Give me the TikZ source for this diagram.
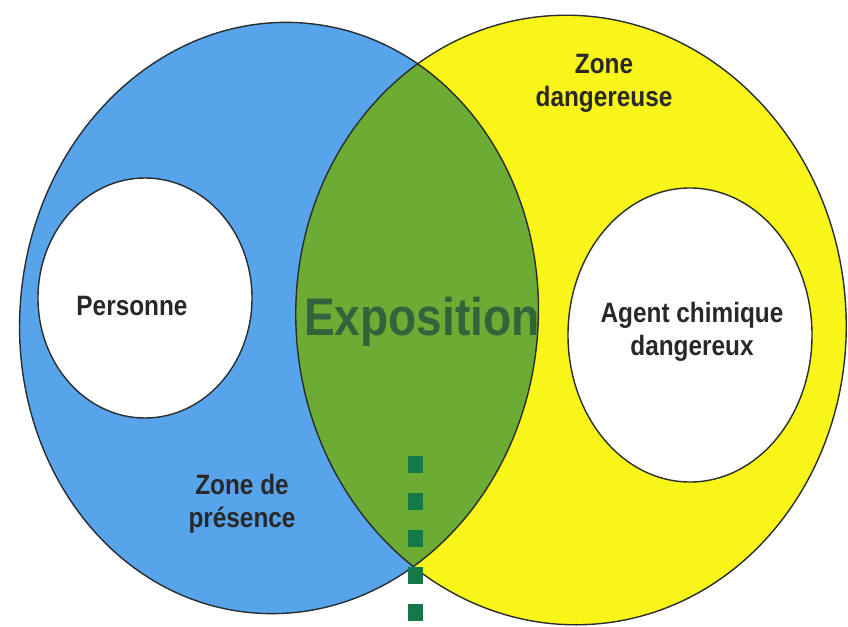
\documentclass[tikz,border=0pt]{standalone}
\usepackage{fontspec}
\setmainfont{Liberation Sans}[FakeStretch=0.87]
\definecolor{zblue}{RGB}{88,164,234}
\definecolor{zyellow}{RGB}{250,245,25}
\definecolor{zgreen}{RGB}{108,172,52}
\definecolor{ztext}{RGB}{40,40,40}
\definecolor{zexpo}{RGB}{48,100,58}
\definecolor{zsquare}{RGB}{22,120,72}
\definecolor{zline}{RGB}{40,45,50}
\tikzset{
  outline/.style={draw=zline, line width=1.4pt},
  label/.style={font=\bfseries\fontsize{28}{33}\selectfont, text=ztext, align=center, inner sep=0pt},
  expo/.style={font=\bfseries\fontsize{53}{60}\selectfont, text=zexpo, inner sep=0pt},
  squares/.style={draw=zsquare, line width=15pt, dash pattern=on 17pt off 20pt}
}
\def\bluezone{(279,318) circle [x radius=259, y radius=296, rotate=-6]}
\def\yellowzone{(571,320) circle [x radius=275, y radius=305, rotate=5]}
\begin{document}
\begin{tikzpicture}[x=1pt,y=-1pt]
\useasboundingbox (0,0) rectangle (848,626);
% zone fills
\fill[zblue] \bluezone;
\fill[zyellow] \yellowzone;
\begin{scope}
  \clip \bluezone;
  \fill[zgreen] \yellowzone;
\end{scope}
% outlines
\draw[outline] \bluezone;
\draw[outline] \yellowzone;
% inner circles
\draw[outline, fill=white] (145,298) ellipse [x radius=107, y radius=120];
\draw[outline, fill=white] (690,335) ellipse [x radius=122, y radius=147];
% dashed marker
\coordinate (dtop) at (415,456);
\coordinate (dbot) at (415,626);
\draw[squares] (dtop) -- (dbot);
% texts
\node[label, anchor=base] (personne) at (132,315) {Personne};
\node[label] (agent) at (692,332) {Agent chimique\\dangereux};
\node[label] (zdang) at (604,83) {Zone\\dangereuse};
\node[label] (zpres) at (242,504) {Zone de\\présence};
\node[expo, anchor=base] (expo) at (422,335) {Exposition};
\end{tikzpicture}
\end{document}
